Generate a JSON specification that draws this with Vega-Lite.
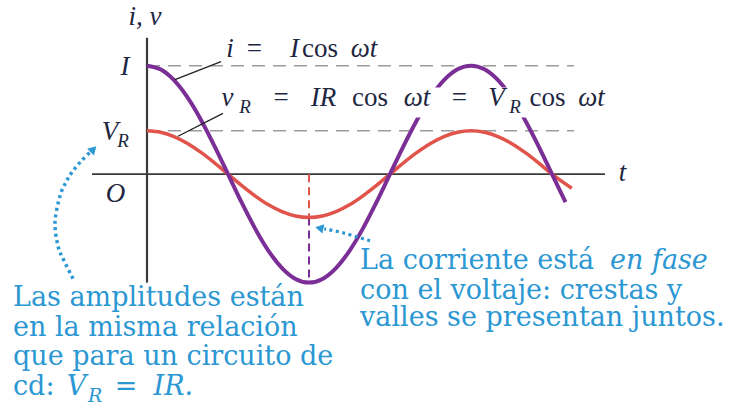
{
  "$schema": "https://vega.github.io/schema/vega-lite/v6.json",
  "width": 740,
  "height": 407,
  "autosize": {"type": "fit", "contains": "padding"},
  "padding": 0,
  "background": "white",
  "config": {"view": {"stroke": null}},
  "datasets": {
    "corriente": [
      {"x": 0, "y": 1}, {"x": 15, "y": 0.966}, {"x": 30, "y": 0.866}, {"x": 45, "y": 0.707},
      {"x": 60, "y": 0.5}, {"x": 75, "y": 0.259}, {"x": 90, "y": 0}, {"x": 105, "y": -0.259},
      {"x": 120, "y": -0.5}, {"x": 135, "y": -0.707}, {"x": 150, "y": -0.866}, {"x": 165, "y": -0.966},
      {"x": 180, "y": -1}, {"x": 195, "y": -0.966}, {"x": 210, "y": -0.866}, {"x": 225, "y": -0.707},
      {"x": 240, "y": -0.5}, {"x": 255, "y": -0.259}, {"x": 270, "y": 0}, {"x": 285, "y": 0.259},
      {"x": 300, "y": 0.5}, {"x": 315, "y": 0.707}, {"x": 330, "y": 0.866}, {"x": 345, "y": 0.966},
      {"x": 360, "y": 1}, {"x": 375, "y": 0.966}, {"x": 390, "y": 0.866}, {"x": 405, "y": 0.707},
      {"x": 420, "y": 0.5}, {"x": 435, "y": 0.259}, {"x": 450, "y": 0}, {"x": 465, "y": -0.259}
    ],
    "voltaje": [
      {"x": 0, "y": 0.4}, {"x": 15, "y": 0.386}, {"x": 30, "y": 0.346}, {"x": 45, "y": 0.283},
      {"x": 60, "y": 0.2}, {"x": 75, "y": 0.104}, {"x": 90, "y": 0}, {"x": 105, "y": -0.104},
      {"x": 120, "y": -0.2}, {"x": 135, "y": -0.283}, {"x": 150, "y": -0.346}, {"x": 165, "y": -0.386},
      {"x": 180, "y": -0.4}, {"x": 195, "y": -0.386}, {"x": 210, "y": -0.346}, {"x": 225, "y": -0.283},
      {"x": 240, "y": -0.2}, {"x": 255, "y": -0.104}, {"x": 270, "y": 0}, {"x": 285, "y": 0.104},
      {"x": 300, "y": 0.2}, {"x": 315, "y": 0.283}, {"x": 330, "y": 0.346}, {"x": 345, "y": 0.386},
      {"x": 360, "y": 0.4}, {"x": 375, "y": 0.386}, {"x": 390, "y": 0.346}, {"x": 405, "y": 0.283},
      {"x": 420, "y": 0.2}, {"x": 435, "y": 0.104}, {"x": 450, "y": 0}, {"x": 472, "y": -0.13}
    ],
    "amplitudes": [
      {"x": 0, "x2": 474.4, "y": 1, "y2": 1},
      {"x": 0, "x2": 474.4, "y": 0.4, "y2": 0.4}
    ],
    "ejes": [
      {"x": 0, "x2": 0, "y": 1.257, "y2": -1.0, "w": "v"},
      {"x": -61.1, "x2": 508.9, "y": 0, "y2": 0, "w": "h"}
    ],
    "guia_v": [{"x": 180, "x2": 180, "y": 0, "y2": -0.4}],
    "guia_i": [{"x": 180, "x2": 180, "y": -0.4, "y2": -1.0}],
    "fondo_rotulo": [{"x": 95, "x2": 531, "y": 0.523, "y2": 0.798}],
    "lineas_guia": [
      {"x": 31.1, "x2": 82.2, "y": 0.872, "y2": 1.037},
      {"x": 34.4, "x2": 84.4, "y": 0.349, "y2": 0.56}
    ],
    "flecha_izq": [
      {"k": 0, "x": -82.2, "y": -0.963}, {"k": 1, "x": -92.2, "y": -0.798},
      {"k": 2, "x": -98.9, "y": -0.661}, {"k": 3, "x": -102.2, "y": -0.44},
      {"k": 4, "x": -96.7, "y": -0.202}, {"k": 5, "x": -90, "y": -0.073},
      {"k": 6, "x": -83.3, "y": 0.018}, {"k": 7, "x": -73.3, "y": 0.119},
      {"k": 8, "x": -63.3, "y": 0.202}
    ],
    "flecha_der": [
      {"k": 0, "x": 247.8, "y": -0.615}, {"k": 1, "x": 217.8, "y": -0.541},
      {"k": 2, "x": 197, "y": -0.505}
    ],
    "puntas": [
      {"x": -59.5, "y": 0.23, "a": 45},
      {"x": 191.5, "y": -0.497, "a": -78}
    ],
    "math_it": [
      {"x": -2.2, "y": 1.376, "s": "i, v"},
      {"x": -24.4, "y": 0.917, "s": "I"},
      {"x": -41.1, "y": 0.312, "s": "V"},
      {"x": -35, "y": -0.257, "s": "O"},
      {"x": 528.3, "y": -0.064, "s": "t"},
      {"x": 92.2, "y": 1.083, "s": "i"},
      {"x": 163.9, "y": 1.083, "s": "I"},
      {"x": 241.1, "y": 1.083, "s": "ωt"},
      {"x": 89.4, "y": 0.624, "s": "v"},
      {"x": 196.1, "y": 0.624, "s": "IR"},
      {"x": 300, "y": 0.624, "s": "ωt"},
      {"x": 388.3, "y": 0.624, "s": "V"},
      {"x": 493.9, "y": 0.624, "s": "ωt"}
    ],
    "math_rm": [
      {"x": 119.4, "y": 1.083, "s": "="},
      {"x": 192.2, "y": 1.083, "s": "cos"},
      {"x": 148.9, "y": 0.624, "s": "="},
      {"x": 247.8, "y": 0.624, "s": "cos"},
      {"x": 347.2, "y": 0.624, "s": "="},
      {"x": 445, "y": 0.624, "s": "cos"}
    ],
    "math_sub": [
      {"x": -26.7, "y": 0.248, "s": "R"},
      {"x": 108.9, "y": 0.56, "s": "R"},
      {"x": 408.9, "y": 0.56, "s": "R"}
    ],
    "nota": [
      {"x": -148.9, "y": -1.22, "s": "Las amplitudes están"},
      {"x": -148.9, "y": -1.495, "s": "en la misma relación"},
      {"x": -148.9, "y": -1.762, "s": "que para un circuito de"},
      {"x": -148.9, "y": -2.037, "s": "cd:"},
      {"x": -35.9, "y": -2.037, "s": "="},
      {"x": 236.7, "y": -0.872, "s": "La corriente está"},
      {"x": 236.7, "y": -1.147, "s": "con el voltaje: crestas y"},
      {"x": 236.7, "y": -1.404, "s": "valles se presentan juntos."}
    ],
    "nota_it": [
      {"x": -89.1, "y": -2.037, "s": "V"},
      {"x": 7.2, "y": -2.037, "s": "IR."},
      {"x": 514.4, "y": -0.872, "s": "en fase"}
    ],
    "nota_sub": [
      {"x": -65.6, "y": -2.101, "s": "R"}
    ]
  },
  "encoding": {
    "x": {"field": "x", "type": "quantitative", "axis": null,
          "scale": {"domain": [-163.333, 658.889], "nice": false, "zero": false}},
    "y": {"field": "y", "type": "quantitative", "axis": null,
          "scale": {"domain": [-2.12844, 1.6055], "nice": false, "zero": false}}
  },
  "layer": [
    {
      "data": {"name": "amplitudes"},
      "mark": {"type": "rule", "color": "#9c9c9c", "strokeWidth": 1.5, "strokeDash": [13, 8]},
      "encoding": {"x2": {"field": "x2"}, "y2": {"field": "y2"}}
    },
    {
      "data": {"name": "ejes"},
      "mark": {"type": "rule", "color": "#3a3a3a"},
      "encoding": {
        "x2": {"field": "x2"}, "y2": {"field": "y2"},
        "strokeWidth": {"field": "w", "type": "nominal", "scale": {"domain": ["v", "h"], "range": [2.2, 1.6]}, "legend": null}
      }
    },
    {
      "data": {"name": "guia_v"},
      "mark": {"type": "rule", "color": "#e0544b", "strokeWidth": 2, "strokeDash": [8, 5]},
      "encoding": {"x2": {"field": "x2"}, "y2": {"field": "y2"}}
    },
    {
      "data": {"name": "guia_i"},
      "mark": {"type": "rule", "color": "#7b2f96", "strokeWidth": 2, "strokeDash": [8, 5]},
      "encoding": {"x2": {"field": "x2"}, "y2": {"field": "y2"}}
    },
    {
      "data": {"name": "voltaje"},
      "mark": {"type": "line", "color": "#e0544b", "strokeWidth": 3.5, "interpolate": "monotone"},
      "encoding": {}
    },
    {
      "data": {"name": "corriente"},
      "mark": {"type": "line", "color": "#7b2f96", "strokeWidth": 4, "interpolate": "monotone"},
      "encoding": {}
    },
    {
      "data": {"name": "fondo_rotulo"},
      "mark": {"type": "rect", "color": "white"},
      "encoding": {"x2": {"field": "x2"}, "y2": {"field": "y2"}}
    },
    {
      "data": {"name": "lineas_guia"},
      "mark": {"type": "rule", "color": "#222222", "strokeWidth": 1.3},
      "encoding": {"x2": {"field": "x2"}, "y2": {"field": "y2"}}
    },
    {
      "data": {"name": "flecha_izq"},
      "mark": {"type": "line", "color": "#2b97d3", "strokeWidth": 3.5, "strokeDash": [3, 3.5], "interpolate": "cardinal"},
      "encoding": {"order": {"field": "k", "type": "quantitative"}}
    },
    {
      "data": {"name": "flecha_der"},
      "mark": {"type": "line", "color": "#2b97d3", "strokeWidth": 3.2, "strokeDash": [3, 3.5], "interpolate": "cardinal"},
      "encoding": {"order": {"field": "k", "type": "quantitative"}}
    },
    {
      "data": {"name": "puntas"},
      "mark": {"type": "point", "shape": "triangle-up", "filled": true, "color": "#2b97d3", "opacity": 1, "size": 90},
      "encoding": {"angle": {"field": "a", "type": "quantitative", "scale": null}}
    },
    {
      "data": {"name": "math_it"},
      "mark": {"type": "text", "font": "Liberation Serif, Times New Roman, serif", "fontStyle": "italic", "fontSize": 27, "color": "#1d2540", "align": "center", "baseline": "alphabetic"},
      "encoding": {"text": {"field": "s"}}
    },
    {
      "data": {"name": "math_rm"},
      "mark": {"type": "text", "font": "Liberation Serif, Times New Roman, serif", "fontSize": 27, "color": "#1d2540", "align": "center", "baseline": "alphabetic"},
      "encoding": {"text": {"field": "s"}}
    },
    {
      "data": {"name": "math_sub"},
      "mark": {"type": "text", "font": "Liberation Serif, Times New Roman, serif", "fontStyle": "italic", "fontSize": 19, "color": "#1d2540", "align": "center", "baseline": "alphabetic"},
      "encoding": {"text": {"field": "s"}}
    },
    {
      "data": {"name": "nota"},
      "mark": {"type": "text", "font": "DejaVu Serif, serif", "fontSize": 27, "color": "#2b97d3", "align": "left", "baseline": "alphabetic"},
      "encoding": {"text": {"field": "s"}}
    },
    {
      "data": {"name": "nota_it"},
      "mark": {"type": "text", "font": "DejaVu Serif, serif", "fontStyle": "italic", "fontSize": 27, "color": "#2b97d3", "align": "left", "baseline": "alphabetic"},
      "encoding": {"text": {"field": "s"}}
    },
    {
      "data": {"name": "nota_sub"},
      "mark": {"type": "text", "font": "DejaVu Serif, serif", "fontStyle": "italic", "fontSize": 19, "color": "#2b97d3", "align": "left", "baseline": "alphabetic"},
      "encoding": {"text": {"field": "s"}}
    }
  ]
}
